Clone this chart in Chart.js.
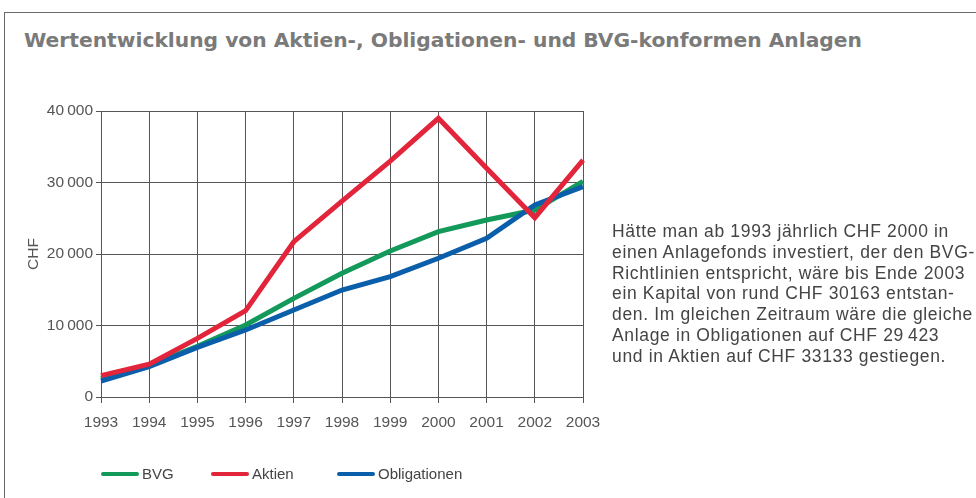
<!DOCTYPE html>
<html><head><meta charset="utf-8">
<script src="https://cdn.jsdelivr.net/npm/chart.js@4/dist/chart.umd.min.js"></script>
<style>
html,body{margin:0;padding:0;width:976px;height:498px;overflow:hidden;background:#fff;}
#frame{position:absolute;left:4px;top:12px;width:1100px;height:700px;border:1.5px solid #6a6a6a;box-sizing:border-box;}
#title{position:absolute;left:24px;top:28px;font-family:"DejaVu Sans Condensed","DejaVu Sans";font-weight:bold;font-size:20px;color:#7a7a7a;white-space:nowrap;transform-origin:0 0;}
#note{position:absolute;left:612px;top:221px;font-family:"Liberation Sans",Arial,sans-serif;font-size:17.5px;letter-spacing:0.65px;line-height:20.8px;color:#444;white-space:nowrap;}
#c{position:absolute;left:0;top:0;}
#legend{position:absolute;top:464px;left:0;font-family:"Liberation Sans",Arial,sans-serif;font-size:15px;color:#444;}
.li{position:absolute;top:0;height:20px;line-height:20px;white-space:nowrap;}
.sw{display:inline-block;width:38px;height:4px;border-radius:2px;vertical-align:middle;margin-right:3px;position:relative;top:-1px;}
</style></head>
<body>
<div id="frame"></div>
<div id="title">Wertentwicklung von Aktien-, Obligationen- und BVG-konformen Anlagen</div>
<canvas id="c" width="976" height="498"></canvas>
<div id="note">Hätte man ab 1993 jährlich CHF 2000 in<br>einen Anlagefonds investiert, der den BVG-<br>Richtlinien entspricht, wäre bis Ende 2003<br>ein Kapital von rund CHF 30163 entstan-<br>den. Im gleichen Zeitraum wäre die gleiche<br>Anlage in Obligationen auf CHF 29&#8201;423<br>und in Aktien auf CHF 33133 gestiegen.</div>
<div id="legend"></div>
<script>
const years = ["1993","1994","1995","1996","1997","1998","1999","2000","2001","2002","2003"];
const bvg = [2600, 4400, 7100, 10070, 13800, 17300, 20420, 23120, 24750, 26150, 30163];
const aktien = [2980, 4600, 8200, 12070, 21720, 27400, 33000, 38980, 32000, 25080, 33133];
const obligationen = [2240, 4240, 6950, 9370, 12170, 14960, 16830, 19400, 22200, 26850, 29423];
const yTicks = [0, 10000, 20000, 30000, 40000];
const seriesNames = ["BVG", "Aktien", "Obligationen"];
const seriesColors = ["#13995a", "#e2253b", "#0b5faa"];

const gridColor = "#555";
const tickFont = {family: "Liberation Sans, Arial, sans-serif", size: 15.5};
function fmt(v){ const s = String(v); return s.length > 3 ? s.slice(0, s.length-3) + "\u2009" + s.slice(-3) : s; }

new Chart(document.getElementById("c"), {
  type: "line",
  data: {
    labels: years,
    datasets: [
      {label: seriesNames[0], data: bvg, borderColor: seriesColors[0], order: 2},
      {label: seriesNames[1], data: aktien, borderColor: seriesColors[1], order: 0},
      {label: seriesNames[2], data: obligationen, borderColor: seriesColors[2], order: 1}
    ].map(d => Object.assign(d, {borderWidth: 5, pointRadius: 0, tension: 0, fill: false, borderJoinStyle: "miter", borderCapStyle: "butt"}))
  },
  options: {
    responsive: false, animation: false, devicePixelRatio: 1,
    layout: {padding: {left: 0, top: 111, right: 393, bottom: 61}},
    plugins: {legend: {display: false}, tooltip: {enabled: false}},
    scales: {
      x: {
        type: "category", offset: false,
        grid: {color: gridColor, lineWidth: 1, tickLength: 6, tickColor: gridColor},
        border: {display: false},
        ticks: {color: "#555", font: tickFont, padding: 10, maxRotation: 0, autoSkip: false},
        afterFit: s => { s.height = 40; }
      },
      y: {
        min: 0, max: 40000,
        afterBuildTicks: s => { s.ticks = yTicks.map(v => ({value: v})); },
        grid: {color: gridColor, lineWidth: 1, tickLength: 5, tickColor: gridColor},
        border: {display: false},
        ticks: {color: "#555", font: tickFont, padding: 3, callback: v => fmt(v)},
        title: {display: true, text: "CHF", color: "#555", font: {family: "Liberation Sans, Arial, sans-serif", size: 15.5}, padding: {top: 24, bottom: 0}},
        afterFit: s => { s.width = 101; }
      }
    }
  }
});

const lg = document.getElementById("legend");
const lx = [101, 211, 337];
seriesNames.forEach((n, i) => {
  const d = document.createElement("div");
  d.className = "li"; d.style.left = lx[i] + "px";
  d.innerHTML = '<span class="sw" style="background:' + seriesColors[i] + '"></span>' + n;
  lg.appendChild(d);
});
const t = document.getElementById("title");
const w = t.getBoundingClientRect().width;
t.style.transform = "scaleX(" + (838 / w) + ")";
</script>
</body></html>
